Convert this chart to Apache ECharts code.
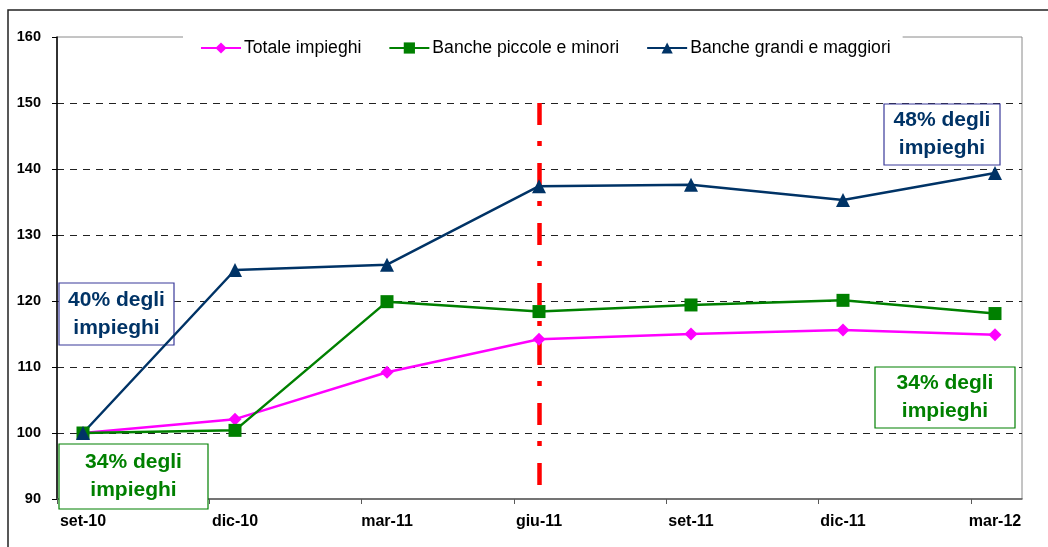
<!DOCTYPE html>
<html>
<head>
<meta charset="utf-8">
<script src="https://cdn.jsdelivr.net/npm/echarts@6/dist/echarts.min.js"></script>
<style>
  html, body { margin: 0; padding: 0; background: #fff; }
  #chart { width: 1048px; height: 547px; }
</style>
</head>
<body>
<div id="chart"></div>
<script>
// Quarterly index of loans (set-10 = 100)
const categories = ['set-10', 'dic-10', 'mar-11', 'giu-11', 'set-11', 'dic-11', 'mar-12'];
const seriesNames = ['Totale impieghi', 'Banche piccole e minori', 'Banche grandi e maggiori'];
const totale = [100, 102.1, 109.2, 114.2, 115.0, 115.6, 114.9];
const piccole = [100, 100.4, 119.9, 118.4, 119.4, 120.1, 118.1];
const grandi = [100, 124.7, 125.5, 137.4, 137.6, 135.3, 139.4];
const yTicks = { min: 90, max: 160, step: 10 };
// vertical marker at giu-11
const divider = { at: 'giu-11', from: 150, to: 91.8 };
// share-of-loans call-outs
const notes = ['40% degli\nimpieghi', '48% degli\nimpieghi', '34% degli\nimpieghi', '34% degli\nimpieghi'];

const FONT = '"Liberation Sans", Arial, sans-serif';
const NAVY = '#003366';
const GREEN = '#008000';
const MAGENTA = '#FF00FF';

const chart = echarts.init(document.getElementById('chart'), null, { renderer: 'canvas' });

function noteBox(text, x, y, w, h, color, border) {
  return {
    type: 'group', z: 1,
    children: [
      { type: 'rect', z: 1, shape: { x: x, y: y, width: w, height: h },
        style: { fill: '#fff', stroke: border, lineWidth: 1.2 } },
      { type: 'text', z: 1, x: x + w / 2, y: y + h / 2,
        style: { text: text, fill: color, font: 'bold 21px ' + FONT,
                 align: 'center', verticalAlign: 'middle', lineHeight: 28 } }
    ]
  };
}

// grid-line colours: hide the ones at the plot border (90 and 160)
const splitColors = [];
for (let v = yTicks.min; v <= yTicks.max; v += yTicks.step) {
  splitColors.push(v === yTicks.min || v === yTicks.max ? 'rgba(0,0,0,0)' : '#222');
}

const option = {
  backgroundColor: '#fff',
  animation: false,
  textStyle: { fontFamily: FONT },
  grid: [
    { left: 57, top: 37, width: 965, height: 462, show: true,
      borderColor: '#8a8a8a', borderWidth: 1, backgroundColor: 'transparent' },
    { left: 83, top: 37, width: 912, height: 462 }
  ],
  legend: {
    data: seriesNames,
    left: 183, top: 30,
    padding: [9, 12, 9, 17],
    itemGap: 27,
    itemWidth: 40, itemHeight: 14,
    backgroundColor: '#fff',
    textStyle: { fontFamily: FONT, fontSize: 17.6, color: '#000', padding: [0, 0, 0, -2] }
  },
  xAxis: [
    { gridIndex: 0, type: 'value', min: 0, max: 965 / 152.3, interval: 1,
      axisLine: { show: true, lineStyle: { color: '#595959', width: 1.5 } },
      axisTick: { show: true, length: 5, lineStyle: { color: '#595959', width: 1 },
                  customValues: [0, 1, 2, 3, 4, 5, 6] },
      axisLabel: { show: false },
      splitLine: { show: false } },
    { gridIndex: 1, type: 'category', data: categories, boundaryGap: false,
      axisLine: { show: false }, axisTick: { show: false },
      axisLabel: { fontFamily: FONT, fontSize: 16, fontWeight: 'bold', color: '#000', margin: 15 },
      splitLine: { show: false } }
  ],
  yAxis: [
    { gridIndex: 0, type: 'value', min: yTicks.min, max: yTicks.max, interval: yTicks.step,
      axisLine: { show: true, lineStyle: { color: '#000', width: 1.5 } },
      axisTick: { show: true, length: 5, lineStyle: { color: '#000', width: 1 } },
      axisLabel: { fontFamily: FONT, fontSize: 14.5, fontWeight: 'bold', color: '#000', margin: 16 },
      splitLine: { show: true, lineStyle: { color: splitColors, width: 1, type: [7, 6] } } },
    { gridIndex: 1, type: 'value', min: yTicks.min, max: yTicks.max, interval: yTicks.step, show: false }
  ],
  series: [
    { name: 'divider', type: 'line', xAxisIndex: 1, yAxisIndex: 1, data: [], z: 1,
      silent: true,
      markLine: {
        z: 1, silent: true, symbol: 'none', label: { show: false },
        lineStyle: { color: '#FF0000', width: 4.5, type: [22, 16, 5, 17], cap: 'butt' },
        emphasis: { disabled: true },
        data: [[{ coord: [divider.at, divider.from] }, { coord: [divider.at, divider.to] }]]
      } },
    { name: seriesNames[0], type: 'line', xAxisIndex: 1, yAxisIndex: 1, data: totale, z: 3,
      symbol: 'diamond', symbolSize: 13,
      lineStyle: { color: MAGENTA, width: 2.5 }, itemStyle: { color: MAGENTA } },
    { name: seriesNames[1], type: 'line', xAxisIndex: 1, yAxisIndex: 1, data: piccole, z: 3,
      symbol: 'rect', symbolSize: 13,
      lineStyle: { color: GREEN, width: 2.5 }, itemStyle: { color: GREEN } },
    { name: seriesNames[2], type: 'line', xAxisIndex: 1, yAxisIndex: 1, data: grandi, z: 3,
      symbol: 'triangle', symbolSize: 14,
      lineStyle: { color: NAVY, width: 2.5 }, itemStyle: { color: NAVY } }
  ],
  graphic: [
    { type: 'rect', z: 0, silent: true, shape: { x: 8, y: 10, width: 1100, height: 600 },
      style: { fill: null, stroke: '#222', lineWidth: 1.5 } },
    noteBox(notes[0], 59, 283, 115, 62, NAVY, '#3a3a9a'),
    noteBox(notes[1], 884, 104, 116, 61, NAVY, '#3a3a9a'),
    noteBox(notes[2], 59, 444, 149, 65, GREEN, GREEN),
    noteBox(notes[3], 875, 367, 140, 61, GREEN, GREEN)
  ]
};

chart.setOption(option);
</script>
</body>
</html>
